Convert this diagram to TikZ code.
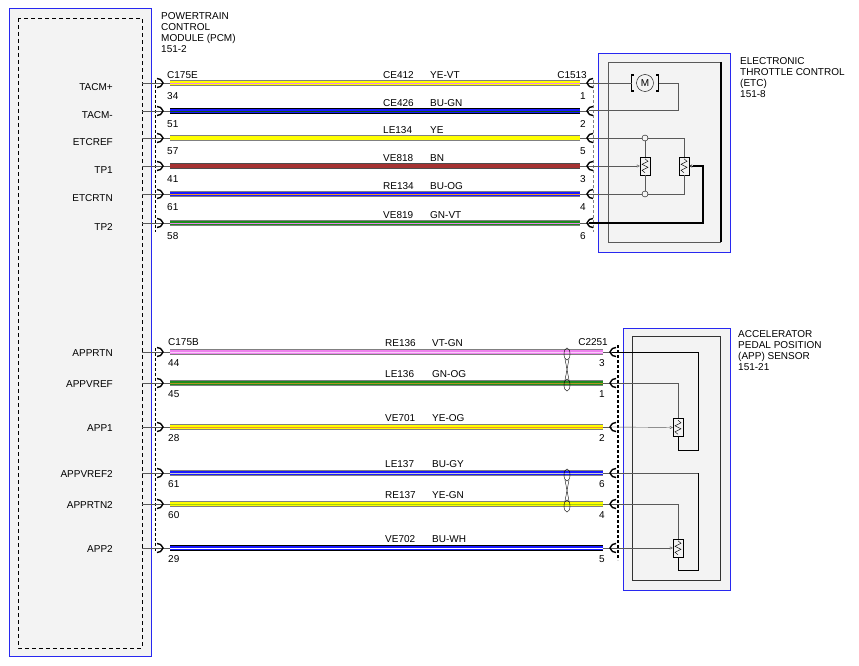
\documentclass[tikz,border=0pt]{standalone}
\usepackage{fontspec}
\setmainfont{Liberation Sans}
\usetikzlibrary{positioning,arrows.meta}

\definecolor{panel}{RGB}{243,243,243}
\definecolor{boxblue}{RGB}{40,40,240}
\definecolor{ye}{RGB}{255,255,0}
\definecolor{bu}{RGB}{25,25,255}
\definecolor{gn}{RGB}{30,140,30}
\definecolor{bn}{RGB}{165,50,50}
\definecolor{vt}{RGB}{238,130,238}
\definecolor{og}{RGB}{240,150,40}

\tikzset{
  lbl/.style={font=\fontsize{10}{11}\selectfont, inner sep=0pt},
  modbox/.style={draw=boxblue, fill=panel},
  potbox/.style={draw, thin, rectangle, minimum width=10pt, minimum height=18pt, inner sep=0pt},
  femL/.pic={\draw[line width=1.4pt] (-4,-4.5) .. controls (-0.5,-4) .. (2,0) .. controls (-0.5,4) .. (-4,4.5);},
  femR/.pic={\draw[line width=1.4pt] (4,-4.5) .. controls (0.5,-4) .. (-2,0) .. controls (0.5,4) .. (4,4.5);},
  wiper/.style={-{Triangle[open,length=3pt,width=3pt]}}
}

% wire: name, y, x from, x to, border, body, stripe
\newcommand{\wire}[7]{%
  \coordinate (#1-L) at (#3,#2);
  \coordinate (#1-R) at (#4,#2);
  \draw[line width=5.2pt, draw=#5] (#1-L) -- (#1-R);
  \draw[line width=3.4pt, draw=#6] (#1-L) -- (#1-R);
  \draw[line width=0.7pt, draw=#7] (#1-L) -- (#1-R);
}

% twisted pair mark between two wires
\newcommand{\twist}[2]{%
  \draw[thin] (567,#1+2) ellipse [x radius=3pt, y radius=6pt];
  \draw[thin] (567,#2+2) ellipse [x radius=3pt, y radius=6pt];
  \draw[thin] (565,#1+7) -- (569,#2-3);
  \draw[thin] (569,#1+7) -- (565,#2-3);
}

\begin{document}
\begin{tikzpicture}[x=1pt,y=-1pt]
\useasboundingbox (0,0) rectangle (859,666);

% PCM
\draw[modbox] (9,8) rectangle (151,656);
\draw[dashed, thin, dash pattern=on 4pt off 3pt] (18,18) rectangle (142,648);
\node[lbl, anchor=north west, align=left] (pcm) at (161,12.5) {POWERTRAIN\\CONTROL\\MODULE (PCM)\\151-2};
\draw[dashed, thin, dash pattern=on 3pt off 2pt] (155,80) -- (155,232);
\draw[dashed, thin, dash pattern=on 3pt off 2pt] (155,348) -- (155,552);

% ETC
\draw[modbox] (598,53) rectangle (730,252);
\draw[gray!70!black] (721,62) -- (608,62) -- (608,242) -- (721,242);
\draw[line width=1.2pt] (721,62) -- (721,242);
\draw[dashed, gray, thin, dash pattern=on 3pt off 2pt] (593,80) -- (593,232);
\node[lbl, anchor=north west, align=left] (etc) at (740,57.5) {ELECTRONIC\\THROTTLE CONTROL\\(ETC)\\151-8};

% APP
\draw[modbox] (623,328) rectangle (730,590);
\draw[black!80] (632,336) rectangle (720,580);
\draw[line width=1.3pt, dashed, dash pattern=on 3pt off 2pt] (618,345) -- (618,560);
\node[lbl, anchor=north west, align=left] (app) at (738,330.5) {ACCELERATOR\\PEDAL POSITION\\(APP) SENSOR\\151-21};

% top harness
\node[lbl, anchor=west] (c175e) at (167,75) {C175E};
\node[lbl, anchor=east] (c1513) at (587,75) {C1513};
\foreach \i/\y/\nm/\lp/\rp/\cir/\cc/\bd/\bo/\st in {
  1/83/TACM+/34/1/CE412/YE-VT/gray/ye/vt,
  2/111/TACM-/51/2/CE426/BU-GN/black/bu/gn!60!black,
  3/138/ETCREF/57/5/LE134/YE/gray/ye/ye,
  4/166/TP1/41/3/VE818/BN/black!70/bn/bn,
  5/194/ETCRTN/61/4/RE134/BU-OG/gray/bu/og,
  6/223/TP2/58/6/VE819/GN-VT/gray/gn/vt}{
  \node[lbl, anchor=east] (n\i) at (113,\y+4) {\nm};
  \coordinate (s\i) at (142,\y);
  \coordinate (r\i) at (589,\y);
  \draw[gray!70!black] (s\i) -- (170,\y);
  \wire{t\i}{\y}{170}{580}{\bd}{\bo}{\st}
  \draw[gray!70!black] (t\i-R) -- (r\i);
  \pic at (161,\y) {femL};
  \pic at (r\i) {femR};
  \node[lbl, anchor=west] (lp\i) at (167,\y+13) {\lp};
  \node[lbl, anchor=east] (rp\i) at (586,\y+13) {\rp};
  \node[lbl, anchor=west] (ci\i) at (383,\y-8) {\cir};
  \node[lbl, anchor=west] (cc\i) at (430,\y-8) {\cc};
}

% ETC inside
\node[circle, draw, thin, minimum size=17pt, inner sep=0pt, font=\fontsize{10}{10}\selectfont] (mot) at (645,83) {M};
\draw[line width=1.2pt] (634,75) -- (631.5,75) -- (631.5,91) -- (634,91);
\draw[line width=1.2pt] (656,75) -- (658.5,75) -- (658.5,91) -- (656,91);
\draw[gray!70!black] (r1) -- (631.5,83);
\draw[gray!70!black] (658.5,83) -- (678,83) -- (678,111);
\draw[gray!70!black, line width=1pt] (678,111) -- (r2);
\node[potbox] (p1) at (645,166) {};
\node[potbox] (p2) at (684,166) {};
\foreach \p in {p1,p2}
  \draw[thin] ([yshift=-2pt]\p.north) -- ++(3pt,-2.5pt) -- ++(-6pt,-3pt) -- ++(6pt,-3pt) -- ++(-6pt,-3pt) -- ++(3pt,-2.5pt);
\node[circle, draw, thin, fill=panel, minimum size=6pt, inner sep=0pt] (k1) at (645,138) {};
\node[circle, draw, thin, fill=panel, minimum size=6pt, inner sep=0pt] (k2) at (645,194) {};
\draw[gray!70!black] (r3) -- (k1.west);
\draw[gray!70!black] (k1.east) -- (684,138) -- (p2.north);
\draw[gray!70!black] (k1.south) -- (p1.north);
\draw[gray!70!black] (p1.south) -- (k2.north);
\draw[gray!70!black] (r5) -- (k2.west);
\draw[gray!70!black] (k2.east) -- (684,194) -- (p2.south);
\draw[gray!70!black, wiper] (r4) -- (p1.west);
\draw[line width=1.2pt] (r6) -- (703,223) -- (703,166) -- ([xshift=4pt]p2.east);
\draw[wiper] ([xshift=4pt]p2.east) -- (p2.east);

% bottom harness
\node[lbl, anchor=west] (c175b) at (168,342) {C175B};
\node[lbl, anchor=east] (c2251) at (608,342) {C2251};
\foreach \i/\y/\nm/\lp/\rp/\cir/\cc/\bd/\bo/\st in {
  1/352/APPRTN/44/3/RE136/VT-GN/gray/vt/vt!40,
  2/383/APPVREF/45/1/LE136/GN-OG/gray/gn/og!70!gn,
  3/427/APP1/28/2/VE701/YE-OG/gray/ye/og,
  4/473/APPVREF2/61/6/LE137/BU-GY/gray/bu/gray!40,
  5/504/APPRTN2/60/4/RE137/YE-GN/gray/ye/gn!40!ye,
  6/548/APP2/29/5/VE702/BU-WH/black/bu/white}{
  \node[lbl, anchor=east] (m\i) at (113,\y+1) {\nm};
  \coordinate (sa\i) at (142,\y);
  \coordinate (ra\i) at (612,\y);
  \draw[gray!70!black] (sa\i) -- (170,\y);
  \wire{b\i}{\y}{170}{603}{\bd}{\bo}{\st}
  \draw[gray!70!black] (b\i-R) -- (ra\i);
  \pic at (161,\y) {femL};
  \pic at (ra\i) {femR};
  \node[lbl, anchor=west] (la\i) at (168,\y+11) {\lp};
  \node[lbl, anchor=east] (ro\i) at (605,\y+11) {\rp};
  \node[lbl, anchor=west] (cb\i) at (385,\y-9) {\cir};
  \node[lbl, anchor=west] (cd\i) at (432,\y-9) {\cc};
}
\twist{352}{383}
\twist{473}{504}

% APP inside
\node[potbox] (q1) at (678,427.5) {};
\node[potbox] (q2) at (678,548) {};
\foreach \p in {q1,q2}
  \draw[thin] ([yshift=-2pt]\p.north) -- ++(3pt,-2.5pt) -- ++(-6pt,-3pt) -- ++(6pt,-3pt) -- ++(-6pt,-3pt) -- ++(3pt,-2.5pt);
\draw (ra1) -- (698,352) -- (698,450) -- (678,450) -- (q1.south);
\draw[gray!70!black] (ra2) -- (678,383) -- (q1.north);
\draw[gray!70!black, wiper] (ra3) -- (q1.west);
\draw[gray!70!black, line width=0.9pt] (ra4) -- (698,473);
\draw (698,473) -- (698,570) -- (678,570) -- (q2.south);
\draw[gray!70!black] (ra5) -- (678,504) -- (q2.north);
\draw[gray!70!black, wiper] (ra6) -- (q2.west);

\end{tikzpicture}
\end{document}
